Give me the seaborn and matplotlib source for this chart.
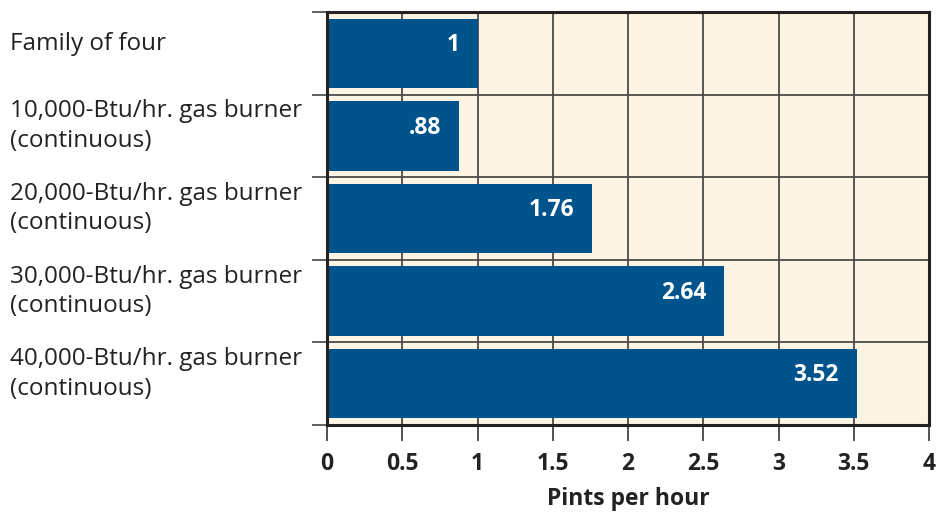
import matplotlib
matplotlib.use("Agg")
import matplotlib.pyplot as plt
import matplotlib.transforms as mtransforms
import seaborn as sns
import pandas as pd
import numpy as np

categories = [
    "Family of four",
    "10,000-Btu/hr. gas burner\n(continuous)",
    "20,000-Btu/hr. gas burner\n(continuous)",
    "30,000-Btu/hr. gas burner\n(continuous)",
    "40,000-Btu/hr. gas burner\n(continuous)",
]
values = [1, 0.88, 1.76, 2.64, 3.52]
value_labels = ["1", ".88", "1.76", "2.64", "3.52"]
x_ticks = [0, 0.5, 1, 1.5, 2, 2.5, 3, 3.5, 4]
x_tick_labels = ["0", "0.5", "1", "1.5", "2", "2.5", "3", "3.5", "4"]
x_label = "Pints per hour"

sns.set_theme(style="white")
plt.rcParams["font.family"] = ["Open Sans", "DejaVu Sans"]

BAR = "#00548B"
BG = "#FDF4E3"
DARK = "#222222"
GRID = "#4a4a4a"

df = pd.DataFrame({"cat": categories, "val": values})

fig = plt.figure(figsize=(9.36, 5.18), dpi=100)
ax = fig.add_axes([327 / 936, 1 - 425 / 518, (929 - 327) / 936, (425 - 12) / 518])
ax.set_facecolor(BG)

sns.barplot(data=df, x="val", y="cat", orient="h", color=BAR, saturation=1,
            width=0.84, ax=ax, zorder=3, edgecolor=BAR, linewidth=0)

ax.set_xlim(0, 4)
ax.set_ylim(len(categories) - 0.5, -0.5)

ax.set_xticks(x_ticks)
ax.set_xticklabels(x_tick_labels, fontsize=16.5, fontweight="bold", color=DARK)
ax.set_yticks(np.arange(len(categories)))
ax.set_yticklabels([])
ax.set_yticks(np.arange(-0.5, len(categories)), minor=True)
ax.tick_params(axis="y", which="major", left=False, length=0)
ax.tick_params(axis="y", which="minor", left=True, length=11, width=1.3,
               color="#555555", direction="out")
ax.tick_params(axis="x", which="major", bottom=True, length=11.5, width=1.3,
               color="#444444", direction="out", pad=8)
ax.grid(False)
for xv in x_ticks[1:-1]:
    ax.axvline(xv, color=GRID, lw=1.3, zorder=1)
for yv in np.arange(0.5, len(categories) - 0.5):
    ax.axhline(yv, color=GRID, lw=1.3, zorder=1)

for s in ax.spines.values():
    s.set_visible(True)
    s.set_color(DARK)
    s.set_linewidth(2.2)
    s.set_zorder(4)

ax.set_ylabel("")
ax.set_xlabel(x_label, fontsize=16.5, fontweight="bold", color=DARK, labelpad=8)

for i, (v, lab) in enumerate(zip(values, value_labels)):
    ax.annotate(lab, xy=(v, i), xytext=(-13, 6), textcoords="offset points",
                ha="right", va="center", color="white", fontsize=16.5,
                fontweight="bold", zorder=5)

trans = mtransforms.blended_transform_factory(fig.transFigure, ax.transData)
off = mtransforms.ScaledTranslation(0, 7 / 72, fig.dpi_scale_trans)
for i, c in enumerate(categories):
    ax.text(10 / 936, i, c, transform=trans + off, ha="left", va="center",
            fontsize=17.5, color=DARK, linespacing=1.3)

fig.savefig("out.png", dpi=100, facecolor="white")
